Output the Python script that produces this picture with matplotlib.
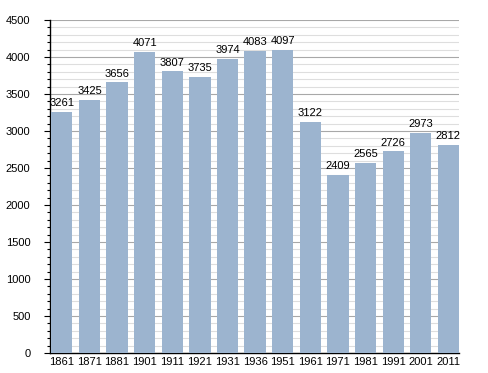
import numpy as np
import matplotlib
matplotlib.use("Agg")
import matplotlib.pyplot as plt
from matplotlib.ticker import MultipleLocator

plt.rcParams['font.family'] = ['Liberation Sans', 'DejaVu Sans']

# population by census year
years = ['1861', '1871', '1881', '1901', '1911', '1921', '1931', '1936',
         '1951', '1961', '1971', '1981', '1991', '2001', '2011']
pop = [3261, 3425, 3656, 4071, 3807, 3735, 3974, 4083,
       4097, 3122, 2409, 2565, 2726, 2973, 2812]

bar_col = '#9cb4cf'
fz = 8

fig = plt.figure(figsize=(4.88, 3.73), dpi=100)
ax = fig.add_axes([50/488, 20/373, 409/488, 333/373])

x = np.arange(len(years))
ax.bar(x, pop, width=0.77, color=bar_col, zorder=3)

for xi, v in zip(x, pop):
    ax.text(xi, v + 50, str(v), ha='center', va='bottom', fontsize=fz, zorder=4)

ax.set_xlim(-0.43, len(years) - 0.615)
ax.set_ylim(0, 4500)
ax.set_xticks(x)
ax.set_xticklabels(years, fontsize=fz)
ax.yaxis.set_major_locator(MultipleLocator(500))
ax.yaxis.set_minor_locator(MultipleLocator(100))
ax.tick_params(axis='y', labelsize=fz, length=4, width=0.8, pad=10)
ax.tick_params(axis='y', which='minor', length=2, width=0.8)
ax.tick_params(axis='x', length=0, pad=3)

ax.grid(axis='y', which='major', color='#a8a8a8', lw=0.8, zorder=1)
ax.grid(axis='y', which='minor', color='#dedede', lw=0.8, zorder=1)

for s in ['top', 'right']:
    ax.spines[s].set_visible(False)
ax.spines['left'].set_linewidth(1.0)
ax.spines['bottom'].set_linewidth(1.0)

fig.savefig('out.png', dpi=100)
